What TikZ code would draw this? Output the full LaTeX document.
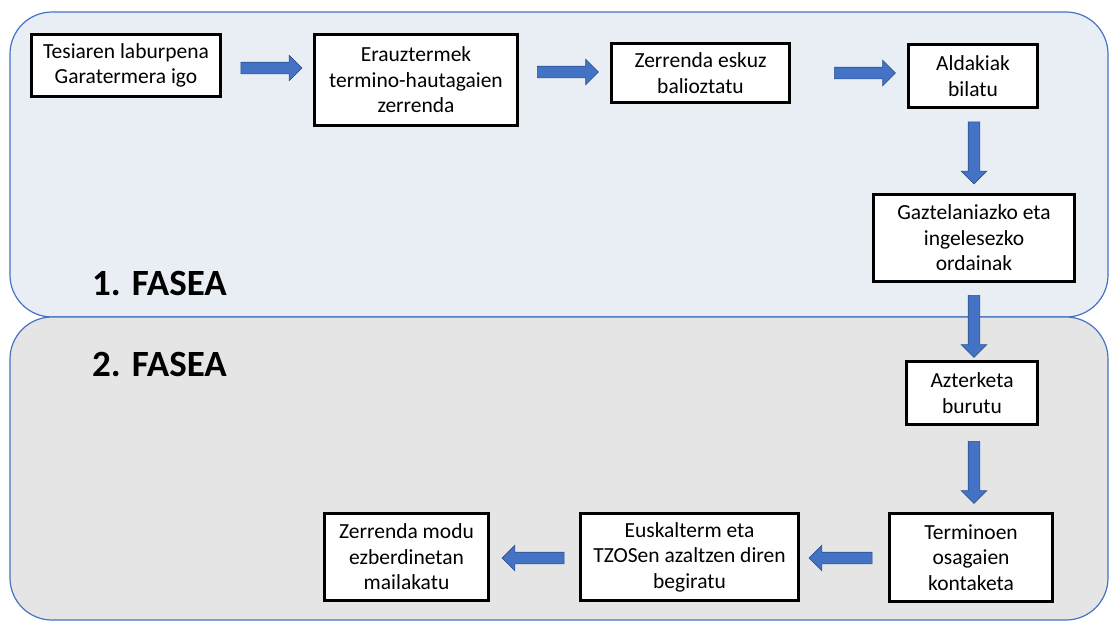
\documentclass[tikz,border=0pt]{standalone}
\usepackage{fontspec}
\setmainfont{Carlito}
\usetikzlibrary{shapes.arrows}
\definecolor{phaseA}{RGB}{233,238,245}
\definecolor{phaseB}{RGB}{229,229,229}
\definecolor{frameblue}{RGB}{68,114,196}
\definecolor{arrfill}{RGB}{68,114,196}
\definecolor{arrdraw}{RGB}{47,82,143}
\tikzset{
  phase/.style={draw=frameblue, line width=1.2pt, rounded corners=42pt},
  stepbox/.style={draw=black, fill=white, line width=2.6pt, align=center, inner sep=2pt,
    font=\fontsize{21.5}{25.5}\selectfont},
  barrow/.style={single arrow, fill=arrfill, draw=arrdraw, line width=0.6pt,
    inner xsep=0pt, inner ysep=5.5pt, text height=0pt, text depth=0pt,
    single arrow head extend=7pt, single arrow tip angle=90},
  phaselabel/.style={font=\fontsize{37}{40}\selectfont\bfseries, inner sep=0pt}
}
\begin{document}
\begin{tikzpicture}[x=1pt,y=-1pt]
\useasboundingbox (0,0) rectangle (1109,622);
\fill[white] (0,0) rectangle (1109,622);
\path[phase, fill=phaseA] (10,12) rectangle (1108,317);
\path[phase, fill=phaseB] (10,317) rectangle (1108,620);
\node[phaselabel, anchor=west] (f1) at (92,283) {1. FASEA};
\node[phaselabel, anchor=west] (f2) at (92,364) {2. FASEA};
% boxes
\node[stepbox, minimum width=189pt, minimum height=62pt] (b1) at (126,65.5) {Tesiaren laburpena\\Garatermera igo};
\node[stepbox, minimum width=203pt, minimum height=91pt] (b2) at (416,80) {Erauztermek\\termino-hautagaien\\zerrenda};
\node[stepbox, minimum width=178pt, minimum height=59pt] (b3) at (700.5,73) {Zerrenda eskuz\\balioztatu};
\node[stepbox, minimum width=129pt, minimum height=63pt] (b4) at (973,76) {Aldakiak\\bilatu};
\node[stepbox, minimum width=201pt, minimum height=87pt] (b5) at (974,238) {Gaztelaniazko eta\\ingelesezko\\ordainak};
\node[stepbox, minimum width=131pt, minimum height=63pt] (b6) at (972,393) {Azterketa\\burutu};
\node[stepbox, minimum width=163pt, minimum height=88pt] (b7) at (971,557.5) {Terminoen\\osagaien\\kontaketa};
\node[stepbox, minimum width=218pt, minimum height=87pt] (b8) at (689.5,557) {Euskalterm eta\\TZOSen azaltzen diren\\begiratu};
\node[stepbox, minimum width=164pt, minimum height=87pt] (b9) at (406.5,557) {Zerrenda modu\\ezberdinetan\\mailakatu};
% arrows
\node[barrow, minimum height=61pt] (a1) at (268.5,68) {};
\node[barrow, minimum height=61pt] (a2) at (565,72) {};
\node[barrow, minimum height=61pt] (a3) at (862,73) {};
\node[barrow, minimum height=62pt, rotate=-90] (a4) at (974,150) {};
\node[barrow, minimum height=62pt, rotate=-90] (a5) at (974,323.5) {};
\node[barrow, minimum height=62pt, rotate=-90] (a6) at (974,469.5) {};
\node[barrow, minimum height=63pt, rotate=180] (a7) at (843.5,558) {};
\node[barrow, minimum height=62pt, rotate=180] (a8) at (536,558) {};
\end{tikzpicture}
\end{document}
